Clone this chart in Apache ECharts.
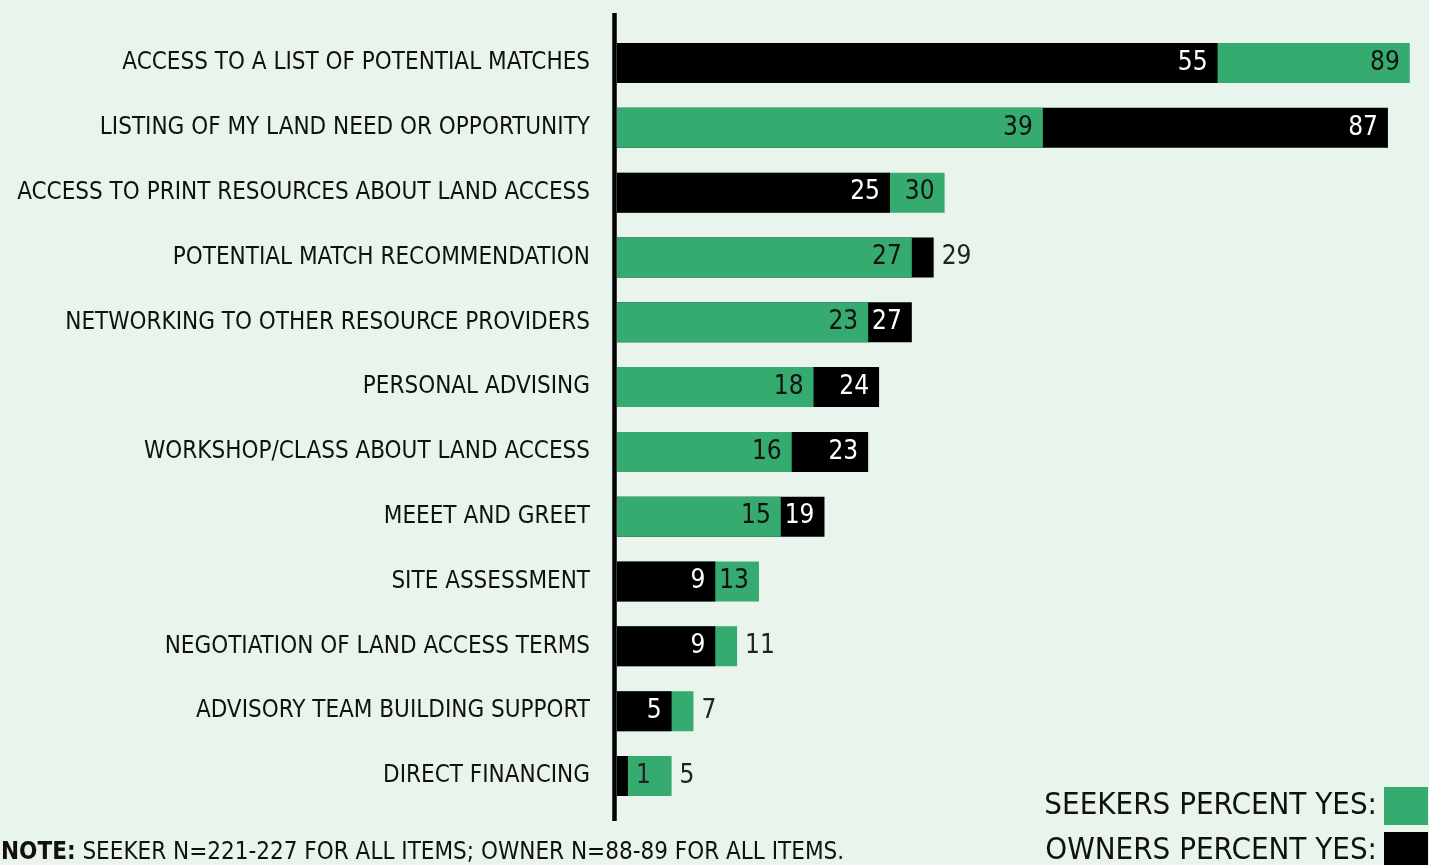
<!DOCTYPE html>
<html>
<head>
    <meta charset="utf-8">
    <title>Land access services</title>
    <script src="https://cdn.jsdelivr.net/npm/echarts@6/dist/echarts.min.js"></script>
    <style>
        html, body { margin: 0; padding: 0; background: #e9f4ec; }
    </style>
</head>
<body>
    <div id="main" style="width: 1429px;height:865px;"></div>
    <script>
        var categories = [
            'ACCESS TO A LIST OF POTENTIAL MATCHES',
            'LISTING OF MY LAND NEED OR OPPORTUNITY',
            'ACCESS TO PRINT RESOURCES ABOUT LAND ACCESS',
            'POTENTIAL MATCH RECOMMENDATION',
            'NETWORKING TO OTHER RESOURCE PROVIDERS',
            'PERSONAL ADVISING',
            'WORKSHOP/CLASS ABOUT LAND ACCESS',
            'MEEET AND GREET',
            'SITE ASSESSMENT',
            'NEGOTIATION OF LAND ACCESS TERMS',
            'ADVISORY TEAM BUILDING SUPPORT',
            'DIRECT FINANCING'
        ];
        var seekers = [89, 39, 30, 27, 23, 18, 16, 15, 13, 11, 7, 5];
        var owners = [55, 87, 25, 29, 27, 24, 23, 19, 9, 9, 5, 1];

        var seekerName = 'SEEKERS PERCENT YES:';
        var ownerName = 'OWNERS PERCENT YES:';
        var GREEN = '#35ab6f';
        var BLACK = '#000000';
        var FONT = "'Liberation Sans Narrow', 'DejaVu Sans Condensed', sans-serif";

        var myChart = echarts.init(document.getElementById('main'));

        // larger value goes behind, smaller one in front
        function makeSeries(name, vals, other, color, front) {
            var inColor = color === BLACK ? '#ffffff' : '#111111';
            return {
                name: name,
                type: 'bar',
                barWidth: 40,
                barGap: '-100%',
                z: front ? 3 : 2,
                itemStyle: { color: color },
                data: echarts.util.map(vals, function (v, i) {
                    var o = other[i];
                    var isFront = v < o;
                    if (isFront !== front) return '-';
                    var inside;
                    if (front) {
                        inside = v >= 2;
                    } else {
                        inside = (v - o) >= 3 && o >= 2;
                    }
                    return {
                        value: v,
                        label: {
                            show: true,
                            position: inside ? 'insideRight' : 'right',
                            distance: inside ? 10 : 8,
                            color: inside ? inColor : '#222222',
                            fontFamily: FONT,
                            fontSize: 26,
                            padding: [4, 0, 0, 0]
                        }
                    };
                })
            };
        }

        function legendFor(name, top) {
            return {
                orient: 'vertical',
                right: 1,
                top: top,
                padding: 0,
                align: 'right',
                itemWidth: 44,
                itemHeight: 38,
                icon: 'rect',
                data: [name],
                textStyle: { fontFamily: FONT, fontSize: 31, color: '#111', padding: [4, 2, 0, 0] }
            };
        }

        var option = {
            backgroundColor: '#e9f4ec',
            animation: false,
            title: {
                left: -4,
                top: 836,
                text: '{b|NOTE:} SEEKER N=221-227 FOR ALL ITEMS; OWNER N=88-89 FOR ALL ITEMS.',
                textStyle: {
                    fontFamily: FONT,
                    fontSize: 24,
                    fontWeight: 'normal',
                    color: '#111',
                    rich: {
                        b: { fontFamily: FONT, fontSize: 24, fontWeight: 'bold', color: '#111' }
                    }
                }
            },
            legend: [
                legendFor(seekerName, 787),
                legendFor(ownerName, 832)
            ],
            grid: {
                left: 617,
                top: 30.6,
                bottom: 56.6,
                width: 803.7,
                outerBoundsMode: 'none',
                containLabel: false
            },
            xAxis: {
                type: 'value',
                min: 0,
                max: 90,
                breaks: [{ start: 60, end: 80, gap: 3.6 }],
                breakArea: { show: false, itemStyle: { opacity: 0 } },
                axisLine: { show: false },
                axisTick: { show: false },
                axisLabel: { show: false },
                splitLine: { show: false }
            },
            yAxis: {
                type: 'category',
                inverse: true,
                data: categories,
                axisLine: { show: false },
                axisTick: { show: false },
                axisLabel: {
                    margin: 27,
                    fontFamily: FONT,
                    fontSize: 24,
                    color: '#111',
                    padding: [6, 0, 0, 0]
                }
            },
            graphic: [{
                type: 'line',
                shape: { x1: 614.5, y1: 13, x2: 614.5, y2: 821 },
                style: { stroke: '#000', lineWidth: 4.5 },
                z: 10
            }],
            series: [
                makeSeries(seekerName, seekers, owners, GREEN, false),
                makeSeries(ownerName, owners, seekers, BLACK, false),
                makeSeries(seekerName, seekers, owners, GREEN, true),
                makeSeries(ownerName, owners, seekers, BLACK, true)
            ]
        };

        myChart.setOption(option);
    </script>
</body>
</html>
